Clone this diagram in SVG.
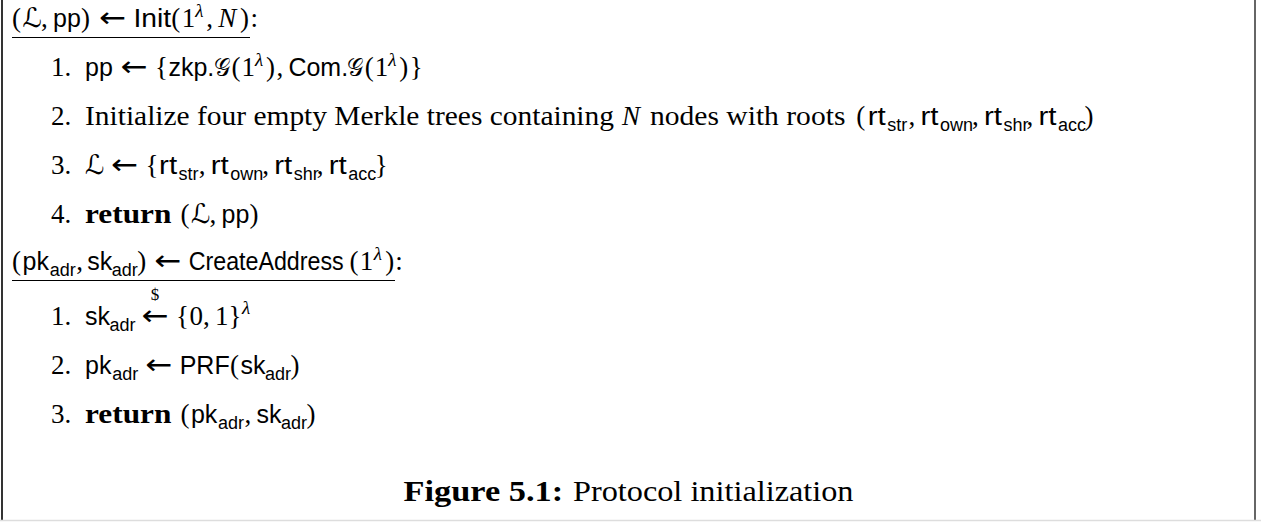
<svg xmlns="http://www.w3.org/2000/svg" width="1261" height="522" viewBox="0 0 1261 522">
  <style>
    .rm { font-family: "Liberation Serif", "DejaVu Serif", serif; font-size: 27px; fill: #000; }
    .sf { font-family: "Liberation Sans", "DejaVu Sans", sans-serif; font-size: 25px; }
    .rt { font-family: "Liberation Sans", "DejaVu Sans", sans-serif; font-size: 26px; }
    .it { font-style: italic; }
    .bf { font-weight: bold; }
    .sub { font-family: "Liberation Sans", "DejaVu Sans", sans-serif; font-size: 18px; }
    .sup { font-family: "Liberation Serif", "DejaVu Serif", serif; font-size: 19px; font-style: italic; }
    .ar { font-family: "DejaVu Sans", sans-serif; font-size: 28px; }
    .scr { font-family: "DejaVu Sans", sans-serif; font-size: 27px; }
    .cal { font-family: "DejaVu Serif", serif; font-size: 25px; }
    .dollar { font-family: "Liberation Serif", serif; font-size: 17px; text-anchor: middle; }
    .cap { font-family: "Liberation Serif", "DejaVu Serif", serif; font-size: 29.5px; fill: #000; }
    .rule { stroke: #000; stroke-width: 1.2; }
  </style>
  <rect x="0" y="0" width="1261" height="522" fill="#fff"/>

  <!-- figure frame -->
  <g id="frame">
    <line x1="2" y1="0" x2="2" y2="521" stroke="#000" stroke-width="1.6"/>
    <line x1="1255" y1="0" x2="1255" y2="521" stroke="#666" stroke-width="2"/>
    <line x1="0" y1="520.5" x2="1261" y2="520.5" stroke="#ddd" stroke-width="1.5"/>
  </g>

  <!-- Init(1^λ, N) -->
  <g id="init">
    <text class="rm" y="27"><tspan x="12">(</tspan><tspan x="22.5" class="scr">ℒ</tspan><tspan x="41.1">,</tspan><tspan x="53.1" class="sf">pp</tspan><tspan x="81">)</tspan><tspan x="99" class="ar" textLength="27" lengthAdjust="spacingAndGlyphs">←</tspan><tspan x="133.5" class="sf" textLength="37.7" lengthAdjust="spacingAndGlyphs">Init</tspan><tspan x="171.2">(</tspan><tspan x="181.7">1</tspan><tspan x="195.2" y="17" class="sup">λ</tspan><tspan x="206.2" y="27">,</tspan><tspan x="218.2" class="it">N</tspan><tspan x="239.9">)</tspan><tspan x="250.4">:</tspan></text>
    <line class="rule" x1="12" y1="37.5" x2="250" y2="37.5"/>

    <text class="rm" y="76"><tspan x="51">1.</tspan><tspan x="85" class="sf">pp</tspan><tspan x="120.4" class="ar" textLength="27" lengthAdjust="spacingAndGlyphs">←</tspan><tspan x="154.9">{</tspan><tspan x="168.4" class="sf">zkp.</tspan><tspan x="213.8" class="cal" textLength="16.5" lengthAdjust="spacingAndGlyphs">𝒢</tspan><tspan x="231.4">(</tspan><tspan x="241.4">1</tspan><tspan x="254.9" y="66" class="sup">λ</tspan><tspan x="265.9" y="76">)</tspan><tspan x="276.4">,</tspan><tspan x="288.4" class="sf">Com.</tspan><tspan x="347.1" class="cal" textLength="16.5" lengthAdjust="spacingAndGlyphs">𝒢</tspan><tspan x="364.7">(</tspan><tspan x="374.7">1</tspan><tspan x="388.2" y="66" class="sup">λ</tspan><tspan x="399.2" y="76">)</tspan><tspan x="409.7">}</tspan></text>

    <text class="rm" y="125"><tspan x="51">2.</tspan><tspan x="85" textLength="529" lengthAdjust="spacingAndGlyphs">Initialize four empty Merkle trees containing</tspan><tspan x="622" class="it">N</tspan><tspan x="650" textLength="195.4" lengthAdjust="spacingAndGlyphs">nodes with roots</tspan><tspan x="856.3">(</tspan><tspan x="867.8" class="rt" textLength="18" lengthAdjust="spacingAndGlyphs">rt</tspan><tspan x="887.3" y="131" class="sub">str</tspan><tspan x="908.4" y="125">,</tspan><tspan x="920.4" class="rt" textLength="18" lengthAdjust="spacingAndGlyphs">rt</tspan><tspan x="939.9" y="131" class="sub">own</tspan><tspan x="971.9" y="125">,</tspan><tspan x="983.9" class="rt" textLength="18" lengthAdjust="spacingAndGlyphs">rt</tspan><tspan x="1003.4" y="131" class="sub">shr</tspan><tspan x="1026.5" y="125">,</tspan><tspan x="1038.5" class="rt" textLength="18" lengthAdjust="spacingAndGlyphs">rt</tspan><tspan x="1058" y="131" class="sub">acc</tspan><tspan x="1084.5" y="125">)</tspan></text>

    <text class="rm" y="174"><tspan x="51">3.</tspan><tspan x="85" class="scr">ℒ</tspan><tspan x="111.1" class="ar" textLength="27" lengthAdjust="spacingAndGlyphs">←</tspan><tspan x="145.6">{</tspan><tspan x="159.1" class="rt" textLength="18" lengthAdjust="spacingAndGlyphs">rt</tspan><tspan x="178.6" y="180" class="sub">str</tspan><tspan x="198.7" y="174">,</tspan><tspan x="210.7" class="rt" textLength="18" lengthAdjust="spacingAndGlyphs">rt</tspan><tspan x="230.2" y="180" class="sub">own</tspan><tspan x="262.2" y="174">,</tspan><tspan x="274.2" class="rt" textLength="18" lengthAdjust="spacingAndGlyphs">rt</tspan><tspan x="293.7" y="180" class="sub">shr</tspan><tspan x="316.8" y="174">,</tspan><tspan x="328.8" class="rt" textLength="18" lengthAdjust="spacingAndGlyphs">rt</tspan><tspan x="348.3" y="180" class="sub">acc</tspan><tspan x="374.8" y="174">}</tspan></text>

    <text class="rm" y="223"><tspan x="51">4.</tspan><tspan x="85" class="bf" textLength="86.4" lengthAdjust="spacingAndGlyphs">return</tspan><tspan x="180.4">(</tspan><tspan x="190.9" class="scr">ℒ</tspan><tspan x="209.5">,</tspan><tspan x="221.5" class="sf">pp</tspan><tspan x="249.4">)</tspan></text>
  </g>

  <!-- CreateAddress(1^λ) -->
  <g id="create-address">
    <text class="rm" y="270"><tspan x="12">(</tspan><tspan x="22.5" class="sf">pk</tspan><tspan x="49.7" y="276" class="sub">adr</tspan><tspan x="76.2" y="270">,</tspan><tspan x="87.2" class="sf">sk</tspan><tspan x="111.7" y="276" class="sub">adr</tspan><tspan x="137.2" y="270">)</tspan><tspan x="154.2" class="ar" textLength="27" lengthAdjust="spacingAndGlyphs">←</tspan><tspan x="188.7" class="sf" textLength="155" lengthAdjust="spacingAndGlyphs">CreateAddress</tspan><tspan x="349.5">(</tspan><tspan x="359.7">1</tspan><tspan x="373.7" y="260" class="sup">λ</tspan><tspan x="385.2" y="270">)</tspan><tspan x="395.2">:</tspan></text>
    <line class="rule" x1="12" y1="280.5" x2="395" y2="280.5"/>

    <text class="rm" y="325"><tspan x="51">1.</tspan><tspan x="85" class="sf">sk</tspan><tspan x="109.5" y="331" class="sub">adr</tspan><tspan x="141.5" y="325" class="ar" textLength="27" lengthAdjust="spacingAndGlyphs">←</tspan><tspan x="176">{</tspan><tspan x="189.5">0</tspan><tspan x="203">,</tspan><tspan x="215">1</tspan><tspan x="228.5">}</tspan><tspan x="242" y="314" class="sup">λ</tspan></text>
    <text class="dollar" x="155" y="300">$</text>

    <text class="rm" y="374"><tspan x="51">2.</tspan><tspan x="85" class="sf">pk</tspan><tspan x="112.2" y="380" class="sub">adr</tspan><tspan x="145.2" y="374" class="ar" textLength="27" lengthAdjust="spacingAndGlyphs">←</tspan><tspan x="179.7" class="sf">PRF</tspan><tspan x="229.9">(</tspan><tspan x="240.4" class="sf">sk</tspan><tspan x="264.9" y="380" class="sub">adr</tspan><tspan x="290.4" y="374">)</tspan></text>

    <text class="rm" y="423"><tspan x="51">3.</tspan><tspan x="85" class="bf" textLength="86.4" lengthAdjust="spacingAndGlyphs">return</tspan><tspan x="180.4">(</tspan><tspan x="190.9" class="sf">pk</tspan><tspan x="218.1" y="429" class="sub">adr</tspan><tspan x="244.6" y="423">,</tspan><tspan x="256.6" class="sf">sk</tspan><tspan x="281.1" y="429" class="sub">adr</tspan><tspan x="306.6" y="423">)</tspan></text>
  </g>

  <!-- caption -->
  <g id="caption">
    <text class="cap" y="501"><tspan x="403.5" class="bf" textLength="159.7" lengthAdjust="spacingAndGlyphs">Figure 5.1:</tspan><tspan x="573" textLength="280.5" lengthAdjust="spacingAndGlyphs">Protocol initialization</tspan></text>
  </g>
</svg>
